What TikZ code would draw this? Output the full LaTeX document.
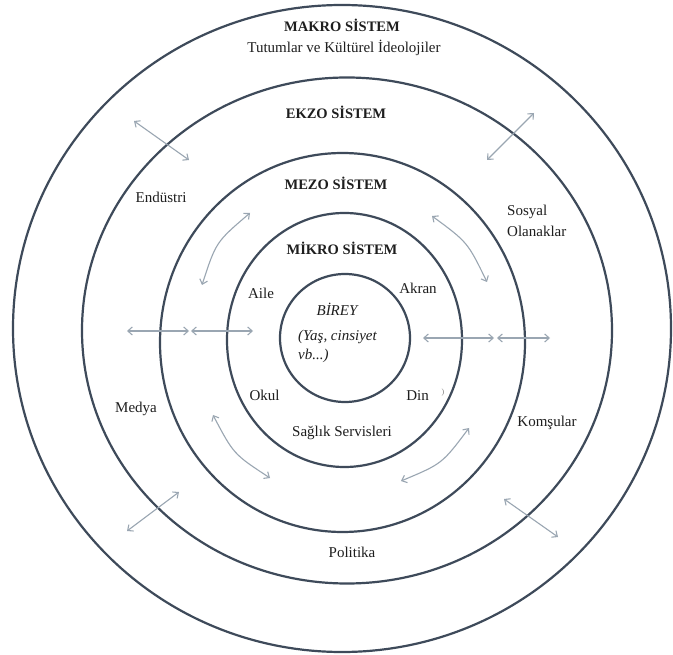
\documentclass[tikz,border=0pt]{standalone}
\usepackage{fontspec}
\setmainfont{Liberation Serif}
\usetikzlibrary{arrows.meta,shapes.geometric}

\definecolor{ringcol}{HTML}{3E4A5A}
\definecolor{arrowcol}{HTML}{9AA6B2}
\definecolor{inkcol}{HTML}{1E1E1E}

\tikzset{
  ring/.style={ellipse, draw=ringcol, line width=2.2pt, inner sep=0pt, outer sep=0pt},
  heading/.style={font=\fontsize{14.5}{17}\selectfont\bfseries, text=inkcol, inner sep=0pt},
  lbl/.style={font=\fontsize{15}{18}\selectfont, text=inkcol, inner sep=0pt},
  ilbl/.style={font=\fontsize{15}{18}\selectfont\itshape, text=inkcol, inner sep=0pt},
  link/.style={draw=arrowcol, line width=1.1pt,
    {Straight Barb[length=4.5pt,width=8pt]}-{Straight Barb[length=4.5pt,width=8pt]}}
}

\begin{document}
\begin{tikzpicture}[x=1pt,y=-1pt]
\useasboundingbox (0,0) rectangle (673,655);
\fill[white] (0,0) rectangle (673,655);

% concentric systems
\node[ring, minimum width=658pt, minimum height=647pt] (makro) at (342,328.5) {};
\node[ring, minimum width=530pt, minimum height=506pt] (ekzo)  at (347,330.5) {};
\node[ring, minimum width=365pt, minimum height=379pt] (mezo)  at (342.5,342.5) {};
\node[ring, minimum width=235pt, minimum height=254pt] (mikro) at (344.5,340) {};
\node[ring, minimum width=130pt, minimum height=128pt] (birey) at (345,338) {};

% system titles
\node[heading] (tmakro) at (342,25) {MAKRO SİSTEM};
\node[lbl] (tideo) at (344,48) {Tutumlar ve Kültürel İdeolojiler};
\node[heading] (tekzo) at (336,112) {EKZO SİSTEM};
\node[heading] (tmezo) at (336,183) {MEZO SİSTEM};
\node[heading] (tmikro) at (342,248) {MİKRO SİSTEM};

% individual
\node[ilbl] (tbirey) at (337,309) {BİREY};
\node[ilbl, anchor=west] (tyas) at (298,337) {(Yaş, cinsiyet};
\node[ilbl, anchor=west] (tvb) at (298,356) {vb...)};

% micro level
\node[lbl] (aile) at (261,293) {Aile};
\node[lbl] (akran) at (418,288) {Akran};
\node[lbl] (okul) at (264.5,395) {Okul};
\node[lbl] (din) at (417.5,396) {Din};
\node[font=\fontsize{8}{9}\selectfont, text=gray, inner sep=0pt] (dinmark) at (443,393) {)};
\node[lbl] (saglik) at (342,433) {Sağlık Servisleri};

% exo level
\node[lbl] (endustri) at (161,197) {Endüstri};
\node[lbl, anchor=west] (sosyal) at (507,212) {Sosyal};
\node[lbl, anchor=west] (olanak) at (507,231) {Olanaklar};
\node[lbl] (medya) at (136,409) {Medya};
\node[lbl] (komsu) at (547,423) {Komşular};
\node[lbl] (politika) at (352,552) {Politika};

% arrow end points
\coordinate (a1s) at (134,121);  \coordinate (a1e) at (189,160);
\coordinate (a2s) at (534,113);  \coordinate (a2e) at (487,160);
\coordinate (a3s) at (127,331);  \coordinate (a3e) at (189,331);
\coordinate (a4s) at (191,331);  \coordinate (a4e) at (253,331);
\coordinate (a5s) at (423,338);  \coordinate (a5e) at (494,338);
\coordinate (a6s) at (497,338);  \coordinate (a6e) at (550,338);
\coordinate (a7s) at (179,492);  \coordinate (a7e) at (127,531);
\coordinate (a8s) at (504,499);  \coordinate (a8e) at (558,537);
\coordinate (c1s) at (250,213);  \coordinate (c1e) at (202,285);
\coordinate (c2s) at (432,216);  \coordinate (c2e) at (487,282);
\coordinate (c3s) at (213,415);  \coordinate (c3e) at (270,478);
\coordinate (c4s) at (469,428);  \coordinate (c4e) at (401,481);

% straight two-way links
\draw[link] (a1s) -- (a1e);
\draw[link] (a2s) -- (a2e);
\draw[link] (a3s) -- (a3e);
\draw[link] (a4s) -- (a4e);
\draw[link] (a5s) -- (a5e);
\draw[link] (a6s) -- (a6e);
\draw[link] (a7s) -- (a7e);
\draw[link] (a8s) -- (a8e);

% curved two-way links in the meso ring
\draw[link] (c1s) .. controls (216,242) .. (c1e);
\draw[link] (c2s) .. controls (467.6,242.2) .. (c2e);
\draw[link] (c3s) .. controls (233.6,454.1) .. (c3e);
\draw[link] (c4s) .. controls (442.1,463.8) .. (c4e);
\end{tikzpicture}
\end{document}
